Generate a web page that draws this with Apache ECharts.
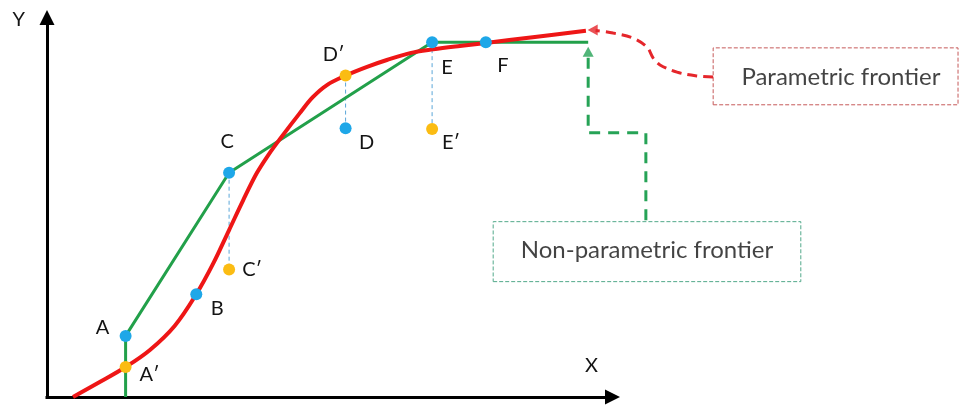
<!DOCTYPE html>
<html>
<head>
<meta charset="utf-8">
<script src="https://cdn.jsdelivr.net/npm/echarts@6/dist/echarts.min.js"></script>
<style>
  html, body { margin: 0; padding: 0; background: #ffffff; }
  #chart { width: 963px; height: 406px; }
</style>
</head>
<body>
<div id="chart"></div>
<script>
// Observed decision-making units (blue) and their projections on the frontier (orange)
const observedNames = ['A', 'B', 'C', 'D', 'E', 'F'];
const observedX = [13.9, 26.4, 32.2, 52.8, 68.1, 77.6];
const observedY = [16.1, 27.1, 59.1, 70.8, 93.5, 93.5];

const projectedNames = ['A′', 'C′', 'D′', 'E′'];
const projectedX = [13.9, 32.2, 52.8, 68.1];
const projectedY = [7.9, 33.6, 84.7, 70.6];

// Parametric (smooth) frontier
const parametricX = [4.6, 9.4, 13.9, 18.2, 22.6, 26.4, 29.4, 32.2, 34.7, 37.1, 39.1, 41.2, 44.7, 47.0, 49.5, 52.8, 56.6, 60.1, 64.2, 68.3, 73.0, 77.6, 85.9, 95.3];
const parametricY = [0.0, 4.0, 7.9, 12.4, 18.8, 27.1, 35.2, 44.0, 51.9, 59.0, 63.7, 68.0, 74.8, 79.0, 82.2, 84.7, 87.0, 88.8, 90.6, 91.6, 92.5, 93.3, 94.8, 96.5];

// Non-parametric (piecewise linear) frontier
const nonParamX = [13.9, 13.9, 32.2, 68.1, 77.6, 95.7];
const nonParamY = [0.0, 16.1, 59.1, 93.5, 93.5, 93.5];

// Vertical gaps between a unit and its counterpart
const dropLinks = [['C', 'C′'], ['D′', 'D'], ['E', 'E′']];

// Callout boxes, their captions and the connectors leading to the curves
const calloutTexts = ['Parametric frontier', 'Non-parametric frontier'];
const calloutTextX = [140.4, 106.1];
const calloutTextY = [84.3, 38.7];
const calloutBoxX = [[117.8, 161.1], [78.9, 133.3]];
const calloutBoxY = [[77.0, 92.0], [30.4, 46.2]];

const parametricLeaderX = [117.8, 114.9, 111.4, 108.4, 107.2, 106.1, 103.6, 100.1, 97.0];
const parametricLeaderY = [84.3, 84.6, 85.6, 87.5, 89.3, 92.2, 94.6, 95.9, 96.6];
const nonParamLeaderX = [105.9, 105.9, 95.7, 95.7];
const nonParamLeaderY = [46.6, 69.6, 69.6, 90.8];
const arrowHeadX = [96.5, 95.7];
const arrowHeadY = [96.7, 91.0];

// Axis ranges: the drawn axes span 0..100, the drawing area continues to the right for the callouts
const AXIS_MAX = 100;
const CANVAS_X_MAX = 170;

const COLORS = {
  red: '#ee1616',
  green: '#22a04a',
  blue: '#1ea7e8',
  orange: '#fbbc13',
  drop: '#5ba6d8',
  redLeader: '#e5262b',
  greenLeader: '#26a356',
  redBox: '#c65a5a',
  greenBox: '#52a98a',
  text: '#141414'
};
const FONT = 'Lato, "Open Sans", sans-serif';

const labelOffset = {
  'A': [-23, -8], 'A′': [24, 8], 'B': [21, 14], 'C': [-2, -31], 'C′': [23, 0],
  'D′': [-12, -21], 'D': [21, 14], 'E': [15, 25], 'E′': [19, 13], 'F': [17, 23]
};

const zip = (xs, ys) => xs.map((x, i) => [x, ys[i]]);
const lookup = {};
observedNames.forEach((n, i) => { lookup[n] = [observedX[i], observedY[i]]; });
projectedNames.forEach((n, i) => { lookup[n] = [projectedX[i], projectedY[i]]; });

const onDrawing = { xAxisIndex: 1, yAxisIndex: 1, clip: false, silent: true };

function pointSeries(names, xs, ys, color) {
  return Object.assign({}, onDrawing, {
    type: 'scatter', z: 6,
    symbol: 'circle', symbolSize: 12,
    itemStyle: { color: color, opacity: 1 },
    data: names.map((n, i) => ({
      name: n, value: [xs[i], ys[i]],
      label: { offset: labelOffset[n] }
    })),
    label: {
      show: true, position: 'inside', formatter: '{b}',
      color: COLORS.text, fontSize: 20, fontFamily: FONT
    }
  });
}

function lineSeries(data, lineStyle, extra) {
  return Object.assign({}, onDrawing, {
    type: 'line', symbol: 'none', lineStyle: lineStyle, data: data
  }, extra || {});
}

function boxPath(bx, by) {
  return [[bx[0], by[0]], [bx[1], by[0]], [bx[1], by[1]], [bx[0], by[1]], [bx[0], by[0]]];
}

const series = [];

// dashed drop lines
dropLinks.forEach(([a, b]) => {
  series.push(lineSeries([lookup[a], lookup[b]],
    { color: COLORS.drop, width: 1, type: [4, 3] }, { z: 1 }));
});

// non-parametric frontier
series.push(lineSeries(zip(nonParamX, nonParamY),
  { color: COLORS.green, width: 3 }, { z: 2 }));

// parametric frontier
series.push(lineSeries(zip(parametricX, parametricY),
  { color: COLORS.red, width: 4 }, { z: 3, smooth: 0.35 }));

// units
series.push(pointSeries(observedNames, observedX, observedY, COLORS.blue));
series.push(pointSeries(projectedNames, projectedX, projectedY, COLORS.orange));

// callout boxes
const boxColors = [COLORS.redBox, COLORS.greenBox];
calloutBoxX.forEach((bx, i) => {
  series.push(lineSeries(boxPath(bx, calloutBoxY[i]),
    { color: boxColors[i], width: 1, type: [4, 2] }, { z: 1 }));
});

// callout captions
series.push(Object.assign({}, onDrawing, {
  type: 'scatter', symbolSize: 0, z: 5,
  data: calloutTexts.map((t, i) => ({ name: t, value: [calloutTextX[i], calloutTextY[i]] })),
  label: {
    show: true, position: 'inside', formatter: '{b}',
    color: COLORS.text, fontSize: 24, fontFamily: FONT
  }
}));

// leaders
series.push(lineSeries(zip(parametricLeaderX, parametricLeaderY),
  { color: COLORS.redLeader, width: 3, type: [10, 6] }, { z: 4, smooth: 0.35 }));
series.push(lineSeries(zip(nonParamLeaderX, nonParamLeaderY),
  { color: COLORS.greenLeader, width: 3, type: [11, 8] }, { z: 4 }));

// arrow heads of the leaders
const arrowColors = [COLORS.redLeader, COLORS.greenLeader];
const arrowRotate = [90, 0];
series.push(Object.assign({}, onDrawing, {
  type: 'scatter', z: 5,
  symbol: 'triangle', symbolSize: [11, 10],
  data: arrowHeadX.map((x, i) => ({
    value: [x, arrowHeadY[i]],
    symbolRotate: arrowRotate[i],
    itemStyle: { color: arrowColors[i] }
  }))
}));

const hiddenAxis = {
  type: 'value', min: 0, show: false,
  splitLine: { show: false }, axisTick: { show: false }, axisLabel: { show: false },
  axisLine: { show: false }
};
const shownAxis = {
  type: 'value', min: 0, max: AXIS_MAX,
  splitLine: { show: false }, axisTick: { show: false }, axisLabel: { show: false },
  axisLine: {
    show: true, onZero: false,
    symbol: ['none', 'triangle'], symbolSize: [15, 15],
    lineStyle: { color: '#000000', width: 3, cap: 'square' }
  },
  nameLocation: 'end', nameMoveOverlap: false
};

const PX_PER_X = 565.5 / AXIS_MAX;

const option = {
  animation: false,
  backgroundColor: '#ffffff',
  grid: [
    { left: 47, width: 565.5, top: 17.5, bottom: 9, containLabel: false, outerBoundsMode: 'none' },
    { left: 47, width: PX_PER_X * CANVAS_X_MAX, top: 17.5, bottom: 9, containLabel: false, outerBoundsMode: 'none' }
  ],
  xAxis: [
    Object.assign({}, shownAxis, {
      gridIndex: 0, name: 'X', nameGap: -21,
      nameTextStyle: {
        color: COLORS.text, fontSize: 20, fontFamily: FONT,
        align: 'center', verticalAlign: 'bottom', padding: [0, 0, 21, 0]
      }
    }),
    Object.assign({}, hiddenAxis, { gridIndex: 1, max: CANVAS_X_MAX })
  ],
  yAxis: [
    Object.assign({}, shownAxis, {
      gridIndex: 0, name: 'Y', nameGap: -2,
      nameTextStyle: {
        color: COLORS.text, fontSize: 20, fontFamily: FONT,
        align: 'right', verticalAlign: 'middle', padding: [0, 22, 0, 0]
      }
    }),
    Object.assign({}, hiddenAxis, { gridIndex: 1, max: AXIS_MAX })
  ],
  series: series
};

const chart = echarts.init(document.getElementById('chart'), null, { renderer: 'canvas' });
chart.setOption(option);
</script>
</body>
</html>
